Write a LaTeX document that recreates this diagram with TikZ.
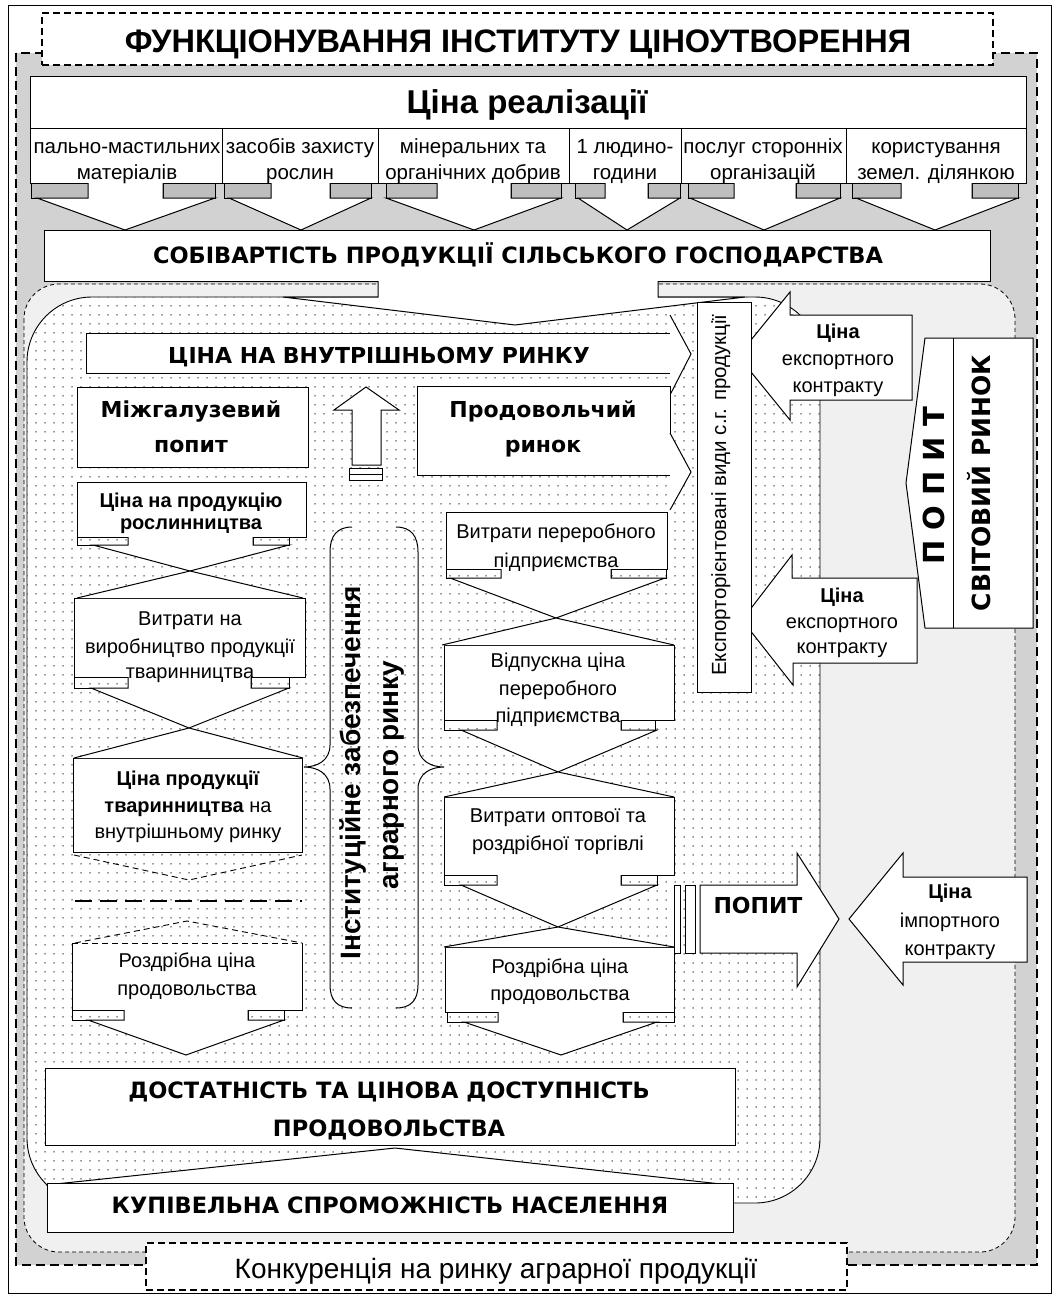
\documentclass[tikz,border=0pt]{standalone}
\usepackage{fontspec}
\setmainfont{Liberation Sans}
\newfontfamily\dvs{DejaVu Sans}
\usetikzlibrary{patterns.meta}
\definecolor{gG}{HTML}{D2D2D2}
\definecolor{gL}{HTML}{F0F0F0}
\definecolor{gT}{HTML}{BEBEBE}
\newcommand\fz[1]{\fontsize{#1}{#1}\selectfont}
\newcommand\bxn[6][]{\node[bx,#1,minimum width=#5-#3,minimum height=#6-#4,anchor=north west] (#2) at (#3,#4) {};}
\newcommand\tx[5][]{\node[anchor=base,inner sep=0pt,#1] (#2) at (#3,#4) {#5};}
\newcommand\harr[8]{\draw[wf] (#3,#1) -- (#3,#2) -- (#5,#2) -- (#7,#8) -- (#6,#2) -- (#4,#2) -- (#4,#1);}
\tikzset{
 bx/.style={draw,fill=white,line width=1pt,outer sep=0pt,inner sep=0pt},
 wf/.style={draw,fill=white,line width=1pt},
 tb/.style={draw,line width=1pt},
 dsh/.style={line width=1.3pt,dash pattern=on 7pt off 4pt},
 thd/.style={line width=0.9pt,dash pattern=on 6pt off 4pt},
}
\begin{document}
\begin{tikzpicture}[x=1pt,y=-1pt]
\useasboundingbox (0,0) rectangle (1062,1296);
\fill[white] (0,0) rectangle (1062,1296);
\draw[line width=1pt] (8,5) rectangle (1051,1293);
% outer gray field
\draw[fill=gG,line width=1.6pt,dash pattern=on 9pt off 5pt] (16,53) rectangle (1037,1265);
\bxn[dsh]{title}{42}{13}{993}{65}
% light field
\draw[fill=gL,line width=0.8pt,dash pattern=on 4pt off 3pt,rounded corners=35pt] (24,284) rectangle (1015,1252);
% dotted field
\draw[fill=white,line width=0.9pt,rounded corners=65pt] (27,297) rectangle (820,1203);
\fill[pattern={Dots[distance=9pt,radius=0.75pt]},pattern color=black!85,rounded corners=65pt] (27,297) rectangle (820,1203);
% top boxes
\bxn{real}{30}{76}{1026}{128}
\bxn{c1}{30}{128}{222}{183}
\bxn{c2}{222}{128}{378}{183}
\bxn{c3}{378}{128}{569}{183}
\bxn{c4}{569}{128}{681}{183}
\bxn{c5}{681}{128}{846}{183}
\bxn{c6}{846}{128}{1026}{183}
\foreach \a/\b in {31/88,163/215,224/271,330/371,386/437,511/561,575/605,648/680,688/734,796/840,852/901,972/1018}
  \draw[tb,fill=gT] (\a,183) rectangle (\b,198);
\harr{183}{198}{88}{163}{37}{215}{125}{230}
\harr{183}{198}{271}{330}{229}{371}{301}{230}
\harr{183}{198}{437}{511}{386}{561}{474}{230}
\harr{183}{198}{605}{648}{578}{680}{627}{230}
\harr{183}{198}{734}{796}{690}{840}{764}{230}
\harr{183}{198}{901}{972}{856}{1018}{935}{230}
\bxn{sob}{44}{230}{990}{281}
\draw[wf] (378,281) -- (378,297) -- (283,297) -- (515,325) -- (745,297) -- (658,297) -- (658,281);
% inner market
\bxn{vr}{86}{333}{670}{373}
\draw[wf] (670,315) -- (691,354) -- (670,395);
\bxn{mg}{77}{387}{308}{467}
\draw[wf] (352,465) -- (352,410) -- (334,410) -- (366,387) -- (399,410) -- (381,410) -- (381,465) -- cycle;
\draw[tb,fill=white] (349,468) rectangle (382,474);
\draw[tb,fill=white] (349,474) rectangle (382,480);
\bxn{pr}{417}{386}{670}{475}
\draw[wf] (670,433) -- (691,472) -- (670,510);
% export arrows
\draw[wf] (912,315) -- (790,315) -- (790,292) -- (738,356) -- (790,420) -- (790,400) -- (912,400) -- cycle;
\draw[wf] (917,578) -- (792,578) -- (792,555) -- (742,620) -- (793,685) -- (793,663) -- (917,663) -- cycle;
\bxn{exp}{697}{302}{751}{692}
\draw[wf] (925,338) -- (1033,338) -- (1033,628) -- (925,628) -- (906,483) -- cycle;
\draw[line width=1pt] (953,338) -- (953,628);
% left column
\bxn{lc1}{77}{482}{306}{537}
\bxn{lc2}{74}{598}{305}{677}
\bxn{lc3}{73}{758}{302}{852}
\node[fill=white,minimum width=230,minimum height=67,anchor=north west,inner sep=0pt,outer sep=0pt] (lc4) at (72,943) {};
\draw[line width=1pt] (72,943) -- (72,1010) -- (302,1010) -- (302,943);
\draw[thd] (72,943) -- (302,943);
\draw[tb] (77,537) rectangle (128,545);
\draw[tb] (253,537) rectangle (289,545);
\harr{537}{545}{128}{253}{93}{289}{190}{571}
\draw[wf] (77,598) -- (190,571) -- (303,598);
\draw[tb] (74,677) rectangle (128,688);
\draw[tb] (251,677) rectangle (289,688);
\harr{677}{688}{128}{251}{91}{289}{189}{728}
\draw[wf] (74,758) -- (189,728) -- (303,758);
\draw[thd] (74,855) -- (189,880) -- (302,855);
\draw[line width=2.5pt,dash pattern=on 17pt off 8pt] (75,901) -- (302,901);
\draw[thd] (75,943) -- (187,921) -- (302,943);
\draw[tb] (72,1010) rectangle (124,1020);
\draw[tb] (248,1010) rectangle (284,1020);
\harr{1010}{1020}{124}{248}{88}{284}{186}{1055}
% right column
\bxn{rc1}{446}{512}{667}{569}
\bxn{rc2}{444}{645}{674}{720}
\bxn{rc3}{444}{797}{674}{875}
\bxn{rc4}{445}{947}{674}{1012}
\draw[tb] (446,569) rectangle (501,578);
\draw[tb] (611,569) rectangle (666,578);
\harr{569}{578}{501}{611}{450}{665}{556}{618}
\draw[wf] (442,645) -- (556,618) -- (674,645);
\draw[tb] (444,720) rectangle (497,730);
\draw[tb] (621,720) rectangle (655,730);
\harr{720}{730}{497}{621}{461}{657}{558}{772}
\draw[wf] (444,797) -- (558,772) -- (674,797);
\draw[tb] (444,875) rectangle (497,885);
\draw[tb] (621,875) rectangle (657,885);
\harr{875}{885}{497}{621}{461}{657}{558}{927}
\draw[wf] (444,947) -- (558,927) -- (674,947);
\draw[tb] (447,1012) rectangle (498,1022);
\draw[tb] (623,1012) rectangle (674,1022);
\harr{1012}{1022}{498}{623}{464}{657}{561}{1055}
% braces
\draw[line width=1pt] (352,527) .. controls (337,527) and (330,536) .. (330,552) -- (330,745) .. controls (330,760) and (318,767) .. (304,767) .. controls (318,767) and (330,774) .. (330,789) -- (330,985) .. controls (330,1000) and (337,1008) .. (352,1008);
\draw[line width=1pt] (396,527) .. controls (411,527) and (418,536) .. (418,552) -- (418,745) .. controls (418,760) and (430,767) .. (444,767) .. controls (430,767) and (418,774) .. (418,789) -- (418,985) .. controls (418,1000) and (411,1008) .. (396,1008);
% demand arrow and import
\draw[tb,fill=white] (674,885) rectangle (680,953);
\draw[tb,fill=white] (685,885) rectangle (695,953);
\draw[wf] (700,885) -- (797,885) -- (797,853) -- (839,919) -- (797,987) -- (797,953) -- (700,953) -- cycle;
\draw[wf] (1027,877) -- (903,877) -- (903,853) -- (849,919) -- (903,985) -- (903,962) -- (1027,962) -- cycle;
% bottom
\bxn{dost}{45}{1068}{735}{1145}
\draw[wf] (46,1185) -- (395,1148) -- (730,1185);
\bxn{kup}{47}{1183}{733}{1232}
\bxn[dsh]{konk}{146}{1243}{847}{1290}
% texts
\tx{tT}{518}{52}{\fz{32.5}\bfseries ФУНКЦІОНУВАННЯ ІНСТИТУТУ ЦІНОУТВОРЕННЯ}
\tx{tR}{527}{113}{\fz{33}\bfseries Ціна реалізації}
\tx{t1a}{127}{153}{\fz{20.5}пально-мастильних}
\tx{t1b}{127}{179}{\fz{20.5}матеріалів}
\tx{t2a}{300}{153}{\fz{20.5}засобів захисту}
\tx{t2b}{300}{179}{\fz{20.5}рослин}
\tx{t3a}{473}{153}{\fz{20.5}мінеральних та}
\tx{t3b}{473}{179}{\fz{20.5}органічних добрив}
\tx{t4a}{625}{153}{\fz{20.5}1 людино-}
\tx{t4b}{625}{179}{\fz{20.5}години}
\tx{t5a}{763}{153}{\fz{20.5}послуг сторонніх}
\tx{t5b}{763}{179}{\fz{20.5}організацій}
\tx{t6a}{936}{153}{\fz{20.5}користування}
\tx{t6b}{936}{179}{\fz{20.5}земел. ділянкою}
\tx{tS}{518}{263}{\dvs\fz{22.5}\bfseries СОБІВАРТІСТЬ ПРОДУКЦІЇ СІЛЬСЬКОГО ГОСПОДАРСТВА}
\tx{tV}{379}{363}{\dvs\fz{22}\bfseries ЦІНА НА ВНУТРІШНЬОМУ РИНКУ}
\tx{tMa}{191}{417}{\dvs\fz{22}\bfseries Міжгалузевий}
\tx{tMb}{191}{452}{\dvs\fz{22}\bfseries попит}
\tx{tPa}{543}{417}{\dvs\fz{22}\bfseries Продовольчий}
\tx{tPb}{543}{452}{\dvs\fz{22}\bfseries ринок}
\tx{tLa}{191}{507}{\fz{20}\bfseries Ціна на продукцію}
\tx{tLb}{191}{529}{\fz{20}\bfseries рослинництва}
\tx{tL2a}{190}{625}{\fz{20}Витрати на}
\tx{tL2b}{190}{653}{\fz{20}виробництво продукції}
\tx{tL2c}{190}{678}{\fz{20}тваринництва}
\tx{tL3a}{188}{785}{\fz{20}\bfseries Ціна продукції}
\tx{tL3b}{188}{812}{\fz{20}\textbf{тваринництва} на}
\tx{tL3c}{188}{838}{\fz{20}внутрішньому ринку}
\tx{tL4a}{187}{967}{\fz{20}Роздрібна ціна}
\tx{tL4b}{187}{995}{\fz{20}продовольства}
\tx{tR1a}{556}{538}{\fz{20}Витрати переробного}
\tx{tR1b}{556}{567}{\fz{20}підприємства}
\tx{tR2a}{558}{667}{\fz{20}Відпускна ціна}
\tx{tR2b}{558}{695}{\fz{20}переробного}
\tx{tR2c}{558}{722}{\fz{20}підприємства}
\tx{tR3a}{558}{822}{\fz{20}Витрати оптової та}
\tx{tR3b}{558}{850}{\fz{20}роздрібної торгівлі}
\tx{tR4a}{560}{973}{\fz{20}Роздрібна ціна}
\tx{tR4b}{560}{1000}{\fz{20}продовольства}
\tx{tE1a}{838}{338}{\fz{20}\bfseries Ціна}
\tx{tE1b}{838}{365}{\fz{20}експортного}
\tx{tE1c}{838}{392}{\fz{20}контракту}
\tx{tE2a}{842}{602}{\fz{20}\bfseries Ціна}
\tx{tE2b}{842}{628}{\fz{20}експортного}
\tx{tE2c}{842}{653}{\fz{20}контракту}
\tx{tIa}{950}{898}{\fz{20}\bfseries Ціна}
\tx{tIb}{950}{927}{\fz{20}імпортного}
\tx{tIc}{950}{955}{\fz{20}контракту}
\tx{tPop}{758}{913}{\dvs\fz{22}\bfseries ПОПИТ}
\tx[rotate=90]{tExp}{726}{495}{\fz{20.5}Експорторієнтовані види с.г. продукції}
\tx[rotate=90]{tPP}{944}{486}{\dvs\fz{29}\bfseries П О П И Т}
\tx[rotate=90]{tSR}{990}{483}{\dvs\fz{25}\bfseries СВІТОВИЙ РИНОК}
\tx[rotate=90]{tIn1}{360}{773}{\fz{28}\bfseries Інституційне забезпечення}
\tx[rotate=90]{tIn2}{398}{775}{\fz{28}\bfseries аграрного ринку}
\tx{tDa}{389}{1098}{\dvs\fz{22.5}\bfseries ДОСТАТНІСТЬ ТА ЦІНОВА ДОСТУПНІСТЬ}
\tx{tDb}{389}{1136}{\dvs\fz{22.5}\bfseries ПРОДОВОЛЬСТВА}
\tx{tK}{390}{1213}{\dvs\fz{22.5}\bfseries КУПІВЕЛЬНА СПРОМОЖНІСТЬ НАСЕЛЕННЯ}
\tx{tC}{496}{1278}{\fz{28}Конкуренція на ринку аграрної продукції}
\end{tikzpicture}
\end{document}
